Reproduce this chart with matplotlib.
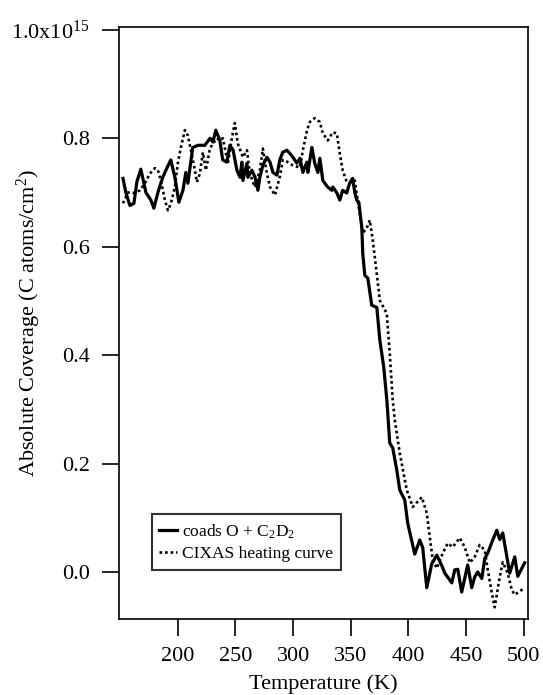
import matplotlib
matplotlib.use("Agg")
import matplotlib.pyplot as plt

# coads O + C2D2 (solid)
temp_coads = [152.5, 155, 158.5, 162, 164.6, 168, 172.4, 176.7, 179.3, 182.8,
              187, 190.6, 194, 197.5, 201, 204.5, 207, 208.8, 213, 217.5,
              223.5, 228, 230.5, 233, 236.5, 239, 242.6, 245.2, 248, 251.3,
              254, 255.6, 256.5, 260, 260.8, 264.3, 267, 269.5, 271.2, 273.8,
              277.3, 280, 282.5, 286, 288.5, 291, 294.6, 297.2, 299.8, 303.3,
              306, 308.5, 312, 312.8, 316.3, 318.8, 321.5, 323.2, 325.8, 330,
              333.6, 334.5, 338, 340.5, 343, 346.5, 349, 351.6, 353.5, 355.2,
              357, 359.6, 360.4, 362.2, 364.8, 368.2, 372.6, 375.2, 378.6, 381.3,
              383.8, 386.4, 389.9, 392.5, 396.8, 399.4, 405.5, 409.8, 412.4, 415.9,
              420.2, 424.6, 428.9, 431.5, 437.6, 440.2, 442.8, 446.2, 448.8, 451.4,
              454.9, 457.5, 460.1, 463.6, 466.2, 468.8, 473.1, 476.6, 479.2, 481.8,
              485.2, 487.8, 492.2, 494.8, 500.8]
cov_coads = [0.726, 0.700, 0.676, 0.680, 0.720, 0.743, 0.700, 0.686, 0.671, 0.700,
             0.728, 0.745, 0.760, 0.728, 0.682, 0.704, 0.737, 0.717, 0.783, 0.787,
             0.787, 0.800, 0.793, 0.815, 0.796, 0.760, 0.756, 0.787, 0.778, 0.741,
             0.728, 0.756, 0.722, 0.754, 0.728, 0.741, 0.728, 0.704, 0.728, 0.750,
             0.765, 0.756, 0.737, 0.732, 0.760, 0.774, 0.778, 0.772, 0.765, 0.754,
             0.763, 0.737, 0.756, 0.737, 0.783, 0.754, 0.737, 0.763, 0.722, 0.710,
             0.704, 0.710, 0.699, 0.686, 0.704, 0.699, 0.717, 0.726, 0.700, 0.686,
             0.682, 0.635, 0.588, 0.547, 0.542, 0.492, 0.488, 0.428, 0.378, 0.317,
             0.238, 0.229, 0.188, 0.151, 0.133, 0.090, 0.033, 0.059, 0.045, -0.029,
             0.015, 0.031, 0.012, -0.002, -0.020, 0.004, 0.005, -0.037, -0.012, 0.013,
             -0.029, -0.009, 0.000, -0.012, 0.025, 0.035, 0.059, 0.077, 0.060, 0.072,
             0.030, -0.002, 0.028, -0.008, 0.017]

# CIXAS heating curve (dotted)
temp_cixas = [152.5, 156.8, 162.9, 167.2, 171.5, 175.9, 180.2, 182.8, 185.4, 188.9,
              191.5, 194.1, 197.5, 200.1, 202.7, 206.2, 208.8, 211.4, 214.9, 216.6,
              219.2, 221.8, 224.4, 227.9, 230.5, 233.9, 236.5, 239.1, 243.5, 246.9,
              249.5, 252.1, 256.5, 260, 262.5, 266.8, 271.2, 273.8, 277.3, 280,
              284.3, 288.6, 291.1, 294.6, 299.8, 305.9, 308.5, 312, 314.5, 318.8,
              323.2, 325.8, 330.1, 334.4, 337.9, 340.5, 343.1, 346.6, 350.9, 353.5,
              355.2, 357.8, 360.4, 363.8, 366.5, 369.1, 372.5, 375.2, 381.2, 383.8,
              386.4, 388.2, 392.5, 398.6, 403.8, 408.1, 411.6, 415.9, 418.5, 421.1,
              424.6, 429.8, 434.1, 438.4, 444.5, 448.8, 453.2, 457.5, 461.8, 466.2,
              468.8, 472.3, 474.8, 479.2, 481.8, 486.1, 489.6, 492.2, 498.2, 500.8]
cov_cixas = [0.680, 0.700, 0.699, 0.704, 0.717, 0.735, 0.745, 0.741, 0.722, 0.686,
             0.667, 0.680, 0.710, 0.754, 0.783, 0.815, 0.805, 0.778, 0.741, 0.719,
             0.735, 0.774, 0.741, 0.781, 0.790, 0.800, 0.796, 0.800, 0.754, 0.800,
             0.828, 0.790, 0.765, 0.778, 0.735, 0.710, 0.741, 0.781, 0.735, 0.710,
             0.695, 0.730, 0.760, 0.757, 0.750, 0.746, 0.778, 0.814, 0.830, 0.837,
             0.830, 0.809, 0.796, 0.811, 0.809, 0.772, 0.740, 0.719, 0.718, 0.722,
             0.697, 0.662, 0.625, 0.634, 0.649, 0.612, 0.551, 0.501, 0.477, 0.404,
             0.317, 0.280, 0.219, 0.151, 0.120, 0.130, 0.138, 0.109, 0.065, 0.022,
             0.007, 0.035, 0.053, 0.046, 0.063, 0.046, 0.017, 0.028, 0.050, 0.040,
             0.004, -0.039, -0.065, -0.009, 0.018, -0.002, -0.033, -0.042, -0.033, -0.029]

x_ticks = [200, 250, 300, 350, 400, 450, 500]
y_ticks = [0.0, 0.2, 0.4, 0.6, 0.8, 1.0]
y_tick_labels = ["0.0", "0.2", "0.4", "0.6", "0.8", "1.0x10$^{15}$"]

plt.rcParams['font.family'] = ['Liberation Serif', 'DejaVu Serif']
plt.rcParams['mathtext.fontset'] = 'custom'
plt.rcParams['mathtext.rm'] = 'Liberation Serif'
plt.rcParams['mathtext.it'] = 'Liberation Serif'
plt.rcParams['mathtext.bf'] = 'Liberation Serif'

fig = plt.figure(figsize=(5.43, 6.95), dpi=100)
ax = fig.add_axes([0.219, 0.1094, 0.753, 0.8516])

ax.plot(temp_coads, cov_coads, color='black', lw=2.3, label='coads O + C$_2$D$_2$')
ax.plot(temp_cixas, cov_cixas, color='black', lw=1.9, linestyle=(0, (1, 1.1)),
        label='CIXAS heating curve')

ax.set_xlim(149, 503.5)
ax.set_ylim(-0.0866, 1.005)
ax.set_xticks(x_ticks)
ax.set_yticks(y_ticks)
ax.set_yticklabels(y_tick_labels)

for s in ax.spines.values():
    s.set_linewidth(1.2)
ax.tick_params(direction='out', length=12, width=1.2, labelsize=16, pad=9,
               top=False, right=False)
ax.tick_params(axis='x', pad=8)

ax.set_xlabel('Temperature (K)', fontsize=16, labelpad=6)
ax.set_ylabel('Absolute Coverage (C atoms/cm$^2$)', fontsize=16)
ax.yaxis.set_label_coords(-0.185, 0.5)

leg = ax.legend(loc='lower left', bbox_to_anchor=(0.08, 0.083), fontsize=12.5,
                frameon=True, fancybox=False, shadow=False, handlelength=1.0,
                handletextpad=0.3, borderpad=0.45, labelspacing=0.3,
                borderaxespad=0)
leg.get_frame().set_edgecolor('black')
leg.get_frame().set_linewidth(1.5)

fig.savefig('out.png', dpi=100)
